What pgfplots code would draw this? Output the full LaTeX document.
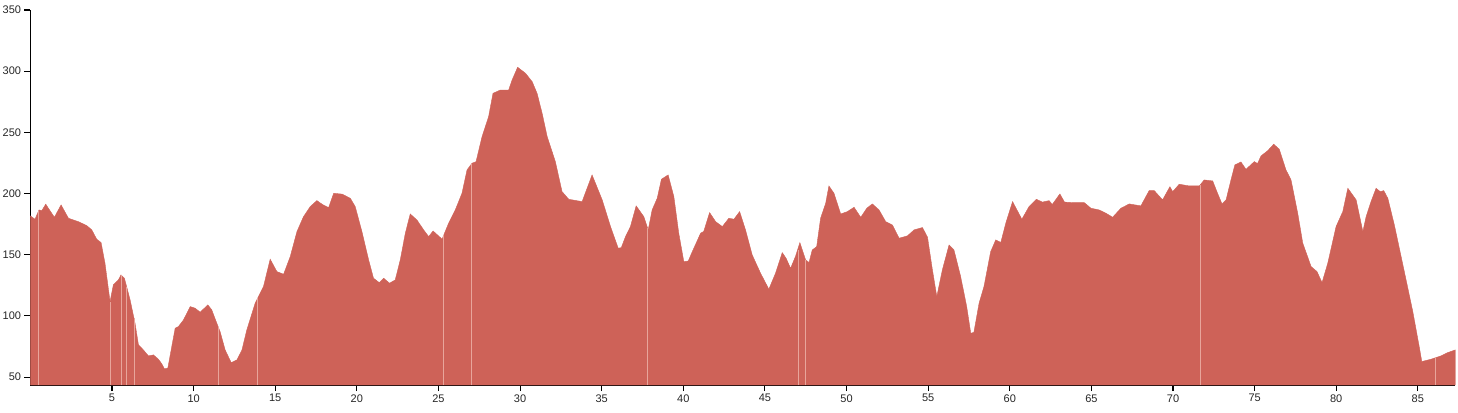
\documentclass[border=0pt]{standalone}
\usepackage{fontspec}
\setmainfont{Liberation Sans}
\usepackage{pgfplots}
\pgfplotsset{compat=1.18}
\definecolor{elev}{RGB}{206,98,88}
\definecolor{gap}{RGB}{232,165,155}
\begin{document}
\begin{tikzpicture}[x=1pt,y=1pt]
\begin{axis}[
  at={(0,0)}, anchor=south west,
  scale only axis,
  width=1068.75pt, height=281.25pt,
  xmin=0, xmax=87.3, ymin=43.5, ymax=350,
  axis x line=bottom, axis y line=left,
  axis line style={-, black, line width=0.8pt},
  xtick={5,10,...,85}, ytick={50,100,...,350},
  tick align=outside, major tick length=4.5pt,
  tick style={black, line width=0.8pt},
  tick label style={font=\fontsize{8.25}{10}\selectfont, text=black!85},
  /pgf/number format/assume math mode=true,
  xticklabel style={yshift=1pt},
  yticklabel style={xshift=1pt},
]
\addplot[fill=elev, draw=elev, line width=0.3pt] coordinates {
(0,181.7)(0.28,179)(0.53,186.6)(0.7,186)(0.94,191.3)(1.15,187)(1.47,180.6)(1.88,190.7)
(2.33,179.8)(2.94,177)(3.45,173.8)(3.76,170.3)(4.06,162.7)(4.33,159.9)(4.57,143)
(4.88,111.7)(5.08,125.3)(5.39,129.4)(5.55,133.5)(5.76,130.8)(6.11,113)(6.41,94)
(6.62,76.3)(6.92,72.2)(7.23,67.3)(7.54,68.1)(7.84,64.6)(8.05,60.8)(8.21,56.7)(8.42,57.3)
(8.66,74.9)(8.87,89.9)(9.07,91.3)(9.38,96.7)(9.79,107.6)(10.09,106.3)(10.4,103)
(10.87,109)(11.11,104.9)(11.42,94)(11.62,87.2)(11.93,72.2)(12.3,61.8)(12.65,64)
(12.96,72.2)(13.26,88.6)(13.77,110.4)(14.28,124)(14.69,146.3)(15.1,136.2)(15.51,134)
(15.92,148.5)(16.33,168.9)(16.73,181.1)(17.14,189.3)(17.55,194.2)(17.9,191)(18.27,188.5)
(18.58,200.2)(19.1,199.5)(19.6,196.1)(19.9,189.3)(20.31,168.9)(20.72,145.8)(21.02,130.8)
(21.37,127.2)(21.64,130.8)(22,126.7)(22.35,129.4)(22.66,145.8)(22.97,167.6)(23.27,183.3)
(23.68,178.4)(24.09,170.3)(24.4,164.8)(24.67,169.4)(24.95,166)(25.22,162.7)(25.62,175.7)
(26.03,186.6)(26.44,200.2)(26.75,219.3)(27.06,224.8)(27.3,226)(27.67,246.5)(28.07,262.8)
(28.34,281.9)(28.79,284.6)(29.3,284.6)(29.51,292.8)(29.85,303.2)(30.33,298.3)(30.74,291.4)
(31.04,281.9)(31.35,265.6)(31.66,246.5)(32.16,226.1)(32.57,201.6)(32.98,195.3)(33.8,193.4)
(34.41,215.2)(35.03,194.8)(35.54,173)(36.01,155.3)(36.2,155.8)(36.46,164.8)(36.76,173)
(37.11,189.9)(37.58,181.1)(37.85,170.3)(38.09,186.6)(38.4,196.1)(38.66,211.7)(39.07,215.2)
(39.42,197.5)(39.72,167.6)(40.03,144.4)(40.3,144.8)(40.55,152.5)(41.06,167.6)(41.25,169)
(41.61,184.4)(41.98,177)(42.39,173)(42.79,179.8)(43.1,179)(43.45,185.2)(43.81,170.3)
(44.22,149.8)(44.73,134.9)(45.24,121.8)(45.65,134.9)(46.06,151.7)(46.3,147)(46.57,138.9)
(46.87,148.5)(47.14,159.9)(47.49,145.8)(47.7,143.6)(47.9,153.9)(48.17,156.6)(48.41,179.8)
(48.72,192)(48.92,206.2)(49.23,200.2)(49.64,183.3)(50.05,185.2)(50.46,188.8)(50.87,180.6)
(51.24,188)(51.58,191.5)(51.99,186.6)(52.4,177)(52.81,174.3)(53.22,163.5)(53.73,165.4)
(54.14,170.3)(54.65,172.2)(54.96,164.3)(55.26,137.6)(55.53,115.8)(55.87,137.6)(56.28,158)
(56.58,153.9)(56.99,132.1)(57.36,107.6)(57.61,85.8)(57.8,86.5)(58.12,110.4)(58.42,124)
(58.83,152.5)(59.14,162.1)(59.45,160)(59.76,176)(60.17,193.4)(60.74,179)(61.18,189.3)
(61.63,195.3)(62,193)(62.41,194.2)(62.6,191)(63.07,199.7)(63.35,193)(63.84,192.6)
(64.56,192.6)(64.97,188)(65.47,186.6)(65.89,183.9)(66.3,180.6)(66.81,188)(67.32,191.5)
(68.03,189.9)(68.54,202.4)(68.85,202.4)(69.36,194.8)(69.81,205.6)(69.98,201.5)(70.38,207.6)
(71,206.2)(71.61,206.2)(71.91,211.1)(72.43,210.3)(72.73,200.2)(73,191.5)(73.25,194.8)
(73.55,211.1)(73.79,223.4)(74.16,225.8)(74.47,219.8)(74.98,226.1)(75.18,224.5)(75.39,230.7)
(75.8,235)(76.17,240.3)(76.51,236.2)(76.92,219.3)(77.23,211.1)(77.64,183.9)(77.95,159.4)
(78.46,140.3)(78.82,136.2)(79.13,127.2)(79.48,143)(79.99,173)(80.4,185.2)(80.71,204.3)
(81.22,194.8)(81.63,168.9)(81.83,181.1)(82.13,193.4)(82.44,204.3)(82.7,201.5)(82.91,202.4)
(83.16,196.1)(83.56,174.3)(84.17,136.2)(84.69,103.5)(85.1,73.6)(85.24,62.7)(85.81,64.6)
(86.42,67.3)(86.83,70)(87.3,72.2)
} \closedcycle;
% thin light gaps between the area's segments
\addplot[ycomb, draw=gap, line width=0.7pt, no marks] coordinates {
(0.48,186)(4.88,111.7)(5.55,133.5)(5.9,124)(6.35,98)(11.5,91)(13.9,115)
(25.3,166)(27.0,224)(37.8,172)(47.05,154)(47.5,145.8)(71.7,207)(86.1,66)
};
\end{axis}
\pgfresetboundingbox
\useasboundingbox (-22.8pt,-20.25pt) rectangle (1070.7pt,288.75pt);
\end{tikzpicture}
\end{document}
